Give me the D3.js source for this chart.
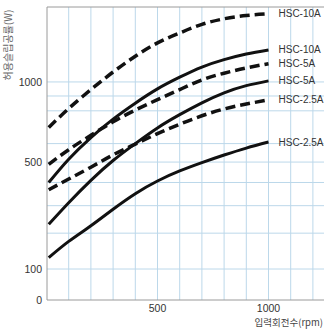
<!DOCTYPE html>
<html>
<head>
<meta charset="utf-8">
<script src="https://cdn.jsdelivr.net/npm/d3@7"></script>
<style>
  body { margin: 0; background: #fff; }
  svg { display: block; font-family: "Liberation Sans", Arial, sans-serif; }
</style>
</head>
<body>
<svg></svg>
<script>
const rpm = [10, 100, 200, 300, 400, 500, 600, 700, 800, 900, 1000]

const hsc10Dash = [695, 815, 945, 1074, 1197, 1306, 1390, 1465, 1515, 1545, 1560]
const hsc10Solid = [400, 515, 635, 747, 851, 950, 1035, 1112, 1170, 1215, 1248]
const hsc5Dash = [488, 566, 648, 730, 805, 875, 945, 1015, 1065, 1105, 1138]
const hsc5Solid = [230, 312, 410, 508, 600, 692, 775, 853, 922, 973, 1008]
const hsc25Dash = [367, 416, 474, 538, 597, 658, 715, 768, 812, 845, 873]
const hsc25Solid = [128, 174, 225, 286, 350, 407, 455, 497, 537, 575, 609]

const seriesNames = ["HSC-10A", "HSC-10A", "HSC-5A", "HSC-5A", "HSC-2.5A", "HSC-2.5A"]
const seriesValues = [hsc10Dash, hsc10Solid, hsc5Dash, hsc5Solid, hsc25Dash, hsc25Solid]
const seriesDashed = [true, false, true, false, true, false]

const yTicks = [0, 100, 500, 1000]
const yGrid = [100, 200, 300, 400, 500, 600, 800, 900, 1000]
const xTicks = [500, 1000]
const xGrid = [100, 200, 300, 400, 500, 600, 700, 800, 900, 1000, 1100, 1200]

const width = 324, height = 329
const plot = { left: 47, top: 7, right: 324, bottom: 300 }

const svg = d3.select('svg')
    .attr("width", width)
    .attr("height", height)

const x = d3.scaleLinear()
    .domain([0, 1250])
    .range([46.5, 324])

// bottom strip 0..100 is squeezed, above 100 the axis runs in sqrt
const y = d3.scalePow().exponent(0.5)
    .domain([0, 100, 1623])
    .range([plot.bottom, 269, plot.top])

// grid
svg.append("g")
    .selectAll("line")
    .data(yGrid)
    .join("line")
    .attr("x1", plot.left).attr("x2", plot.right)
    .attr("y1", d => y(d)).attr("y2", d => y(d))
    .attr("stroke", "#bcd8ea")

svg.append("g")
    .selectAll("line")
    .data(xGrid)
    .join("line")
    .attr("x1", d => x(d)).attr("x2", d => x(d))
    .attr("y1", plot.top).attr("y2", plot.bottom)
    .attr("stroke", "#bcd8ea")

// frame
svg.append("path")
    .attr("d", `M${plot.right},${plot.top}H${plot.left}V${plot.bottom}H${plot.right}`)
    .attr("fill", "none")
    .attr("stroke", "#9a9a9a")

// y labels
svg.append("g")
    .selectAll("text")
    .data(yTicks)
    .join("text")
    .attr("x", 42)
    .attr("y", d => y(d))
    .attr("dy", "0.35em")
    .attr("text-anchor", "end")
    .attr("font-size", 10.5)
    .attr("fill", "#333")
    .text(d => d)

// x labels
svg.append("g")
    .selectAll("text")
    .data(xTicks)
    .join("text")
    .attr("x", d => x(d))
    .attr("y", 312)
    .attr("text-anchor", "middle")
    .attr("font-size", 10.5)
    .attr("fill", "#333")
    .text(d => d)

svg.append("text")
    .attr("x", 323)
    .attr("y", 326)
    .attr("text-anchor", "end")
    .attr("font-size", 9.5)
    .attr("font-family", "'Noto Sans CJK KR', sans-serif")
    .attr("fill", "#444")
    .text("입력회전수(rpm)")

svg.append("text")
    .attr("transform", "translate(12,45) rotate(-90)")
    .attr("text-anchor", "middle")
    .attr("font-size", 10)
    .attr("font-family", "'Noto Sans CJK KR', sans-serif")
    .attr("fill", "#666")
    .text("허용슬립공률(W)")

// curves
const line = d3.line()
    .x((d, i) => x(rpm[i]))
    .y(d => y(d))
    .curve(d3.curveNatural)

svg.append("g")
    .selectAll("path")
    .data(seriesValues)
    .join("path")
    .attr("d", d => line(d))
    .attr("fill", "none")
    .attr("stroke", "#111")
    .attr("stroke-width", (d, i) => seriesDashed[i] ? 3.5 : 3)
    .attr("stroke-dasharray", (d, i) => seriesDashed[i] ? "10,5" : null)

svg.append("g")
    .selectAll("text")
    .data(seriesValues)
    .join("text")
    .attr("x", x(1000) + 10)
    .attr("y", d => y(d[d.length - 1]))
    .attr("dy", "0.35em")
    .attr("font-size", 10)
    .attr("fill", "#333")
    .text((d, i) => seriesNames[i])
</script>
</body>
</html>
